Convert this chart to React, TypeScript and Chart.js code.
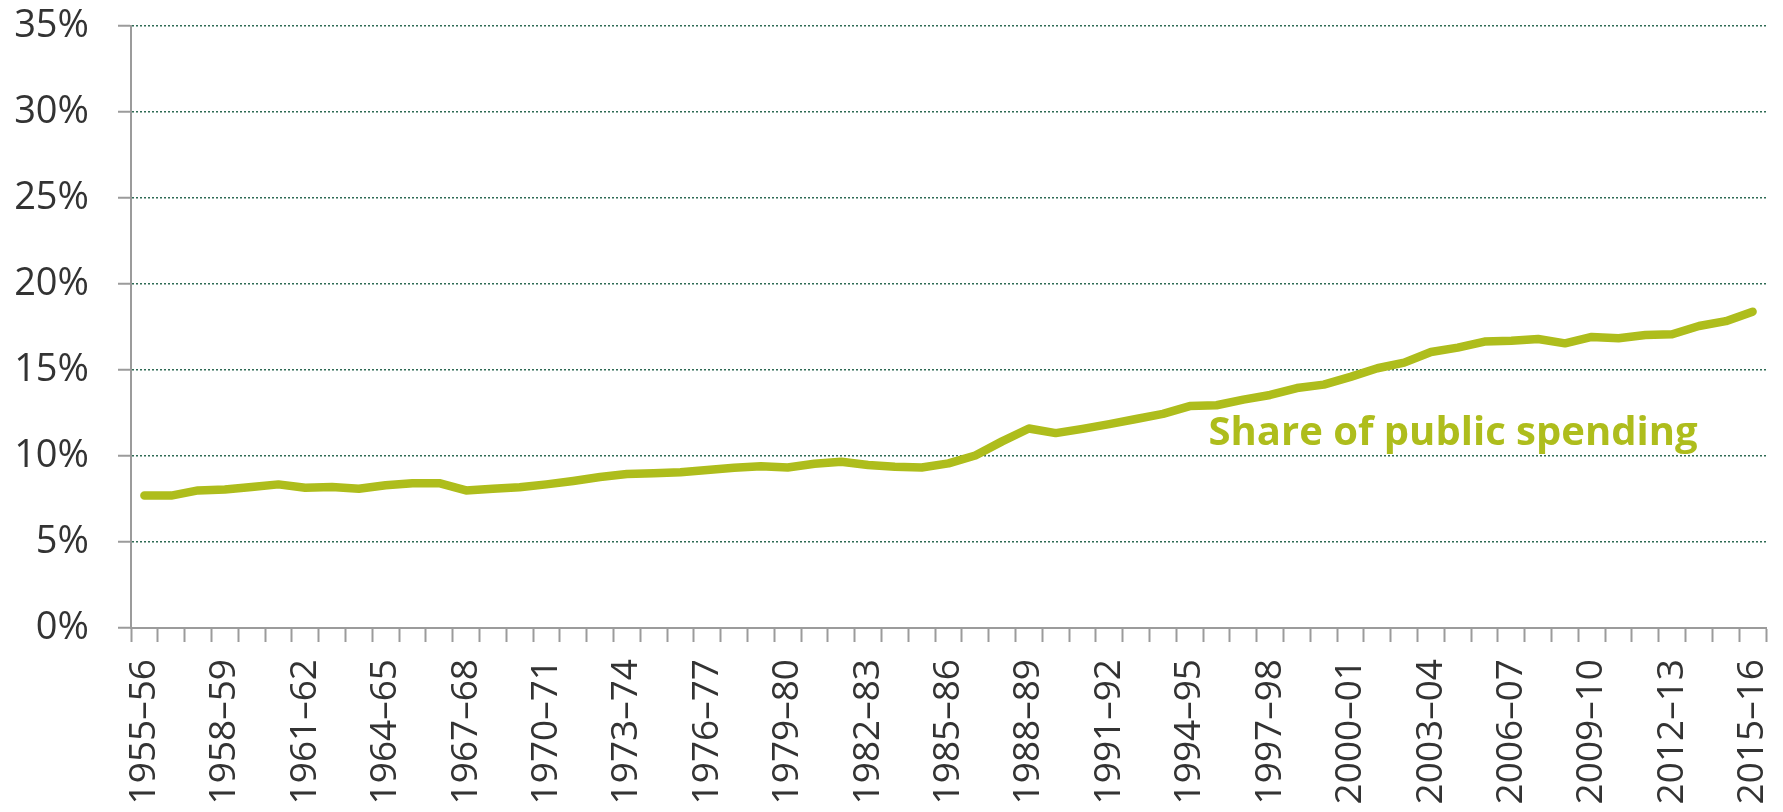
import React, { useEffect, useRef } from "react";
import { Chart, registerables } from "chart.js";

Chart.register(...registerables);

const startYears: number[] = [];
for (let y = 1955; y <= 2015; y++) startYears.push(y);
const categories = startYears.map(
  (y) => `${y}–${String((y + 1) % 100).padStart(2, "0")}`
);

const shareOfPublicSpending = [
  7.7, 7.7, 8.0, 8.05, 8.2, 8.35, 8.15, 8.2, 8.1, 8.3,
  8.42, 8.42, 8.0, 8.1, 8.18, 8.35, 8.55, 8.78, 8.95, 9.0,
  9.05, 9.18, 9.32, 9.4, 9.33, 9.55, 9.67, 9.48, 9.38, 9.33,
  9.57, 10.03, 10.85, 11.6, 11.33, 11.58, 11.85, 12.15, 12.45, 12.9,
  12.95, 13.28, 13.55, 13.95, 14.15, 14.6, 15.1, 15.43, 16.05, 16.3,
  16.65, 16.7, 16.8, 16.55, 16.92, 16.85, 17.03, 17.08, 17.56, 17.84,
  18.39,
];

const yTicks = [0, 5, 10, 15, 20, 25, 30, 35];
const seriesLabel = "Share of public spending";
const labelAnchorIndex = 39.7;
const labelAnchorValue = 10.65;

const LINE_COLOR = "#aebd1c";
const AXIS_GRAY = "#9b9b9b";
const GRID_GREEN = "#2f6b55";
const TEXT = "#333333";
const FONT = '"Open Sans", "Noto Sans", sans-serif';

const seriesLabelPlugin = {
  id: "seriesLabel",
  afterDatasetsDraw(chart: any) {
    const { ctx, scales } = chart;
    const x = scales.x.getPixelForValue(labelAnchorIndex);
    const y = scales.y.getPixelForValue(labelAnchorValue);
    ctx.save();
    ctx.font = `bold 40px ${FONT}`;
    ctx.fillStyle = LINE_COLOR;
    ctx.textAlign = "left";
    ctx.textBaseline = "alphabetic";
    ctx.fillText(seriesLabel, x, y);
    ctx.restore();
  },
};

export default function App() {
  const ref = useRef<HTMLCanvasElement | null>(null);

  useEffect(() => {
    document.body.style.overflow = "hidden";
    const canvas = ref.current;
    if (!canvas) return;
    const chart = new Chart(canvas, {
      type: "line",
      data: {
        labels: categories,
        datasets: [
          {
            label: seriesLabel,
            data: shareOfPublicSpending,
            borderColor: LINE_COLOR,
            backgroundColor: LINE_COLOR,
            borderWidth: 8.5,
            borderCapStyle: "round",
            borderJoinStyle: "round",
            pointRadius: 0,
            tension: 0,
            fill: false,
          },
        ],
      },
      options: {
        animation: false,
        responsive: false,
        layout: { padding: { top: 18, right: 9, bottom: 0, left: 0 } },
        plugins: {
          legend: { display: false },
          tooltip: { enabled: false },
        },
        scales: {
          x: {
            type: "category",
            offset: true,
            grid: {
              display: true,
              offset: true,
              drawOnChartArea: false,
              drawTicks: true,
              tickLength: 14,
              tickColor: AXIS_GRAY,
              tickWidth: 2,
            },
            border: { display: true, color: AXIS_GRAY, width: 2 },
            ticks: {
              autoSkip: false,
              maxRotation: 90,
              minRotation: 90,
              padding: 17,
              color: TEXT,
              font: { family: FONT, size: 37, lineHeight: 1 },
              callback: (_v: any, i: number) => (i % 3 === 0 ? categories[i] : ""),
            },
            afterFit: (s: any) => {
              s.height = 200;
              s.paddingLeft = 0;
              s.paddingRight = 0;
            },
          },
          y: {
            min: 0,
            max: 35,
            afterBuildTicks: (s: any) => {
              s.ticks = yTicks.map((v) => ({ value: v }));
            },
            grid: {
              color: GRID_GREEN,
              lineWidth: 1.5,
              drawTicks: true,
              tickLength: 13,
              tickColor: AXIS_GRAY,
              tickWidth: 2,
            },
            border: { display: true, color: AXIS_GRAY, width: 2, dash: [2, 2] },
            ticks: {
              padding: 29,
              color: TEXT,
              font: { family: FONT, size: 38, lineHeight: 1 },
              callback: (v: any) => `${v}%`,
            },
            afterFit: (s: any) => {
              s.width = 123;
              s.paddingTop = 0;
              s.paddingBottom = 0;
            },
          },
        },
      },
      plugins: [seriesLabelPlugin],
    });
    return () => chart.destroy();
  }, []);

  return (
    <div style={{ width: 1767, height: 820 }}>
      <canvas ref={ref} width={1767} height={820} style={{ display: "block" }} />
    </div>
  );
}
